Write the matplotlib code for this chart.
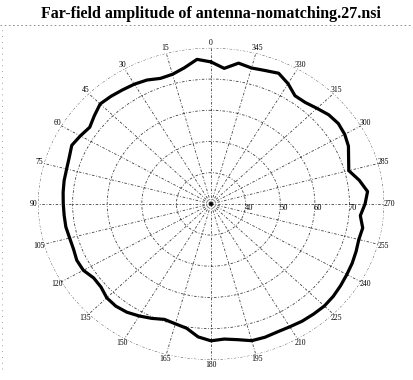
import numpy as np
import matplotlib
matplotlib.use("Agg")
import matplotlib.pyplot as plt
from matplotlib.lines import Line2D

# far-field amplitude (dB), every 5 degrees
angles_deg = np.arange(0, 360, 5)
amplitude = [75.5, 76.5, 74.3, 73.0, 72.8, 73.8, 74.3, 74.6, 75.0, 75.3,
             74.0, 72.8, 73.6, 74.4, 73.6, 73.2, 73.1, 72.9, 72.7, 72.6,
             72.6, 72.3, 72.3, 72.8, 72.6, 71.4, 71.5, 72.6, 72.8, 72.4,
             71.5, 70.5, 69.4, 69.8, 70.5, 72.8, 73.9, 73.5, 74.2, 75.4,
             75.5, 75.3, 75.5, 75.9, 76.1, 76.3, 76.1, 75.7, 75.3, 75.0,
             74.6, 74.2, 74.5, 73.3, 74.5, 75.4, 73.5, 71.2, 72.3, 73.8,
             74.6, 74.9, 74.4, 73.3, 72.4, 72.3, 74.5, 76.2, 75.5, 75.1,
             75.8, 73.6]
r_ticks = [40, 50, 60, 70, 80]
r_tick_labels = ["40", "50", "60", "70"]
theta_ticks = np.arange(0, 360, 15)

title = "Far-field amplitude of antenna-nomatching.27.nsi"

fig = plt.figure(figsize=(4.13, 3.8), dpi=100)
ax = fig.add_axes([0.092, 0.053, 0.838, 0.821], projection="polar")
ax.set_aspect("auto")
ax.set_theta_zero_location("N")
ax.set_theta_direction(1)

theta = np.deg2rad(np.append(angles_deg, angles_deg[0]))
vals = np.append(amplitude, amplitude[0])
ax.plot(theta, vals, color="black", lw=2.3, solid_joinstyle="round",
        solid_capstyle="round")

ax.set_rlim(30, 80)
ax.set_rticks(r_ticks)
ax.set_yticklabels([])
# radial labels sit just under the 270 spoke
for r, lab in zip(r_ticks, r_tick_labels):
    ax.text(np.deg2rad(270), r + 1, lab, ha="center", va="top",
            fontsize=6, family="Liberation Serif")

ax.set_thetagrids(theta_ticks, [str(t) for t in theta_ticks],
                  fontsize=5.5, family="Liberation Serif")
ax.tick_params(axis="x", pad=-7)
ax.grid(True, color="black", lw=0.6, ls=(0, (3, 2, 1, 2)), alpha=0.75)
ax.spines["polar"].set_visible(False)

fig.text(0.51, 0.962, title, ha="center", va="center", fontsize=11.5,
         fontweight="bold", family="Liberation Serif")

# faint scan borders
fig.add_artist(Line2D([0.0, 1.0], [0.935, 0.935], transform=fig.transFigure,
                      color="gray", lw=0.6, ls=(0, (2, 3))))
fig.add_artist(Line2D([0.006, 0.006], [0.03, 0.93], transform=fig.transFigure,
                      color="gray", lw=0.6, ls=(0, (1, 6))))

fig.savefig("out.png", dpi=100)
